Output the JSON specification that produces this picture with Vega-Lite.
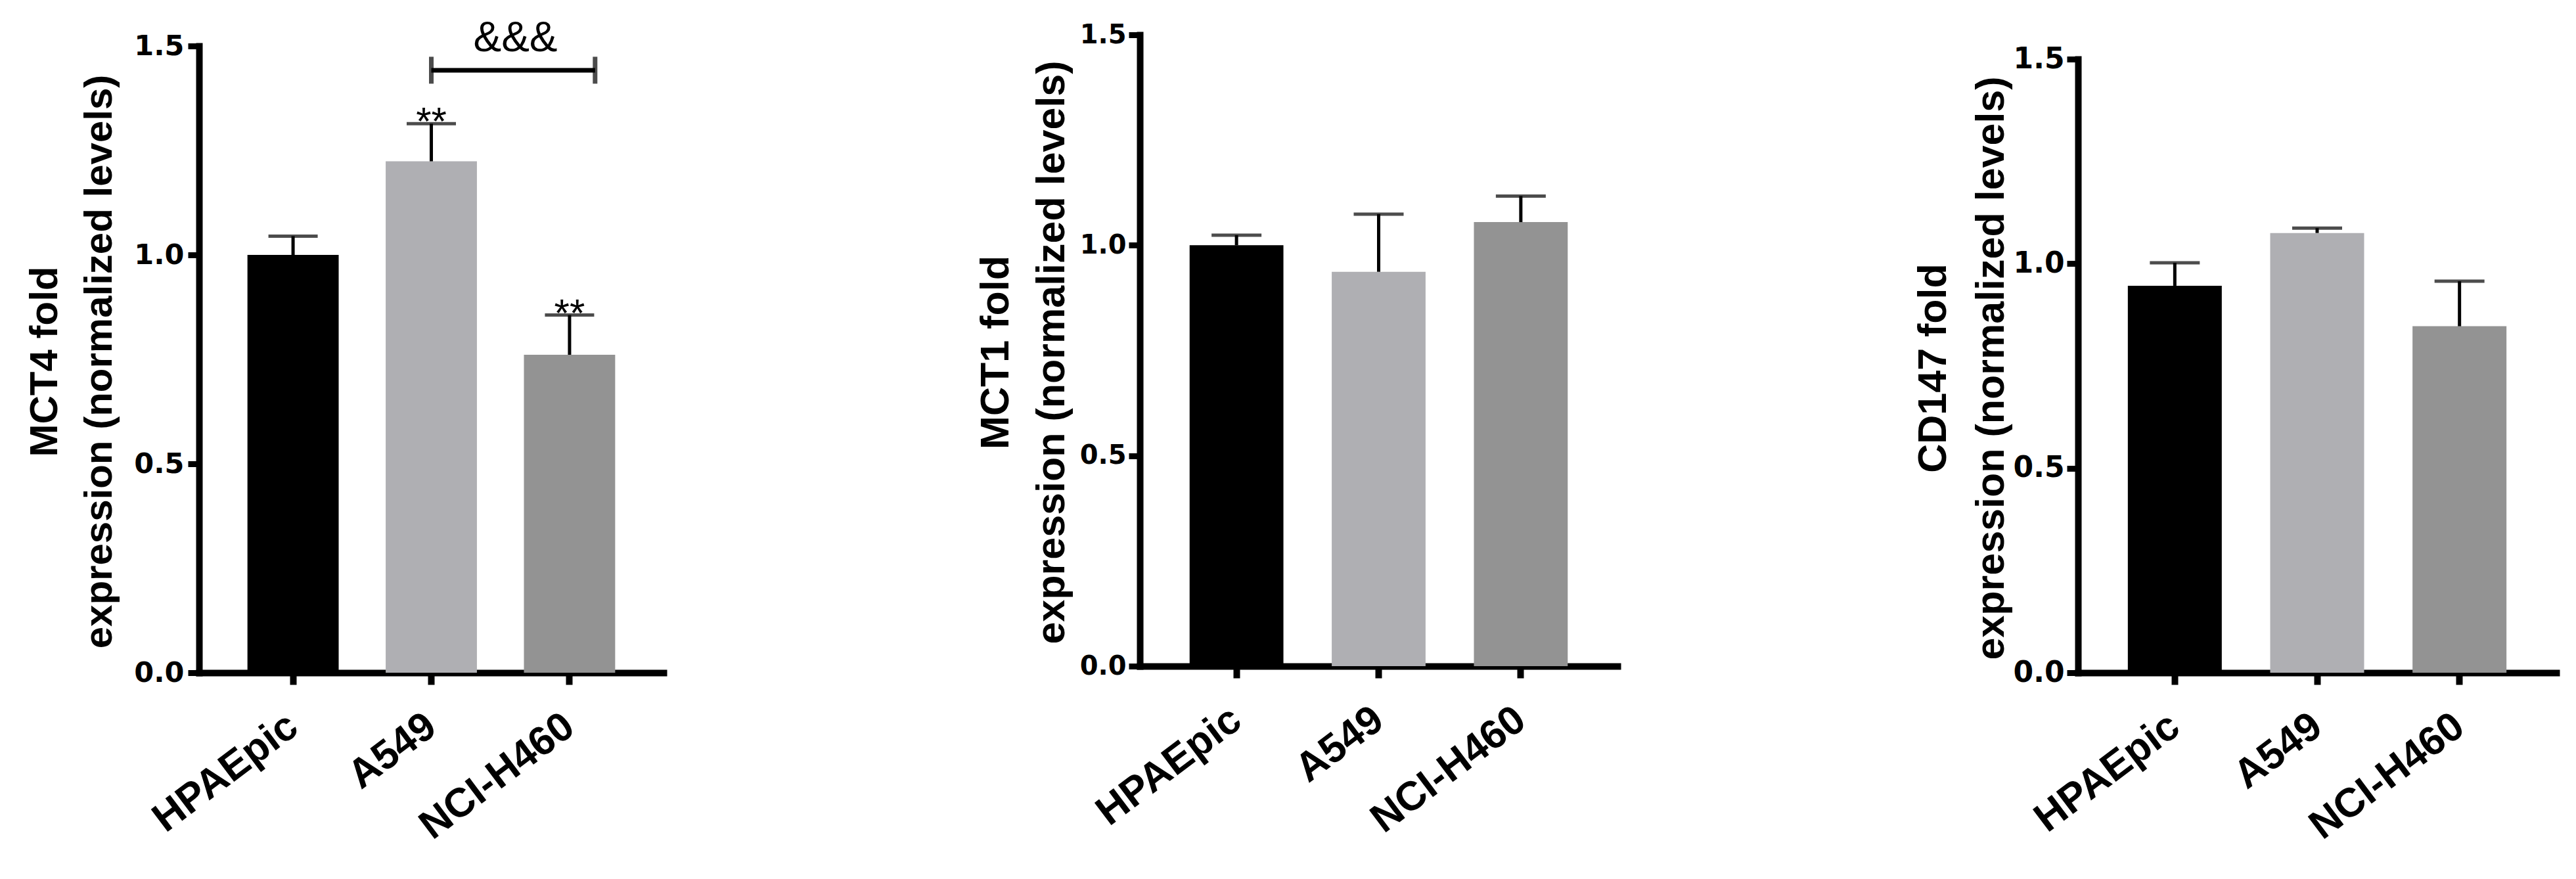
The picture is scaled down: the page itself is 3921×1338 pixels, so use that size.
{
  "$schema": "https://vega.github.io/schema/vega-lite/v6.json",
  "autosize": "none",
  "padding": {"left": 303, "top": 53, "right": 3618, "bottom": 1285},
  "background": "white",
  "config": {
    "view": {"stroke": null},
    "axis": {"grid": false, "domainColor": "black", "tickColor": "black", "labelColor": "black", "titleColor": "black", "domainCap": "square", "domainWidth": 10, "tickWidth": 9, "labelLimit": 0}
  },
  "datasets": {
    "mct4": [
      {"cell": "HPAEpic", "mean": 1.0, "upper": 1.045, "sig": ""},
      {"cell": "A549", "mean": 1.224, "upper": 1.314, "sig": "**"},
      {"cell": "NCI-H460", "mean": 0.761, "upper": 0.856, "sig": "**"}
    ],
    "mct1": [
      {"cell": "HPAEpic", "mean": 1.0, "upper": 1.024},
      {"cell": "A549", "mean": 0.937, "upper": 1.074},
      {"cell": "NCI-H460", "mean": 1.055, "upper": 1.117}
    ],
    "cd147": [
      {"cell": "HPAEpic", "mean": 0.946, "upper": 1.002},
      {"cell": "A549", "mean": 1.075, "upper": 1.087},
      {"cell": "NCI-H460", "mean": 0.847, "upper": 0.957}
    ],
    "bracket": [
      {"from": "A549", "to": "NCI-H460", "y": 1.442, "label": "&&&"}
    ]
  },
  "bounds": "flush",
  "spacing": 705,
  "hconcat": [
    {
      "width": 727,
      "height": 971,
      "encoding": {
        "x": {"field": "cell", "type": "nominal",
          "scale": {"domain": ["HPAEpic", "A549", "NCI-H460"], "range": [0, 707], "paddingInner": 0.34, "paddingOuter": 0.35},
          "axis": {"title": null, "labelAngle": -37, "labelAlign": "right", "labelBaseline": "middle", "labelFont": "Liberation Sans", "labelFontWeight": "bold", "labelFontSize": 62, "labelPadding": 56, "tickSize": 18, "tickWidth": 10}}
      },
      "layer": [
        {
          "data": {"name": "mct4"},
          "mark": {"type": "bar"},
          "encoding": {
            "y": {"field": "mean", "type": "quantitative",
              "scale": {"domain": [0, 1.5], "range": [971, 17], "nice": false},
              "axis": {"title": ["MCT4 fold", "expression (normalized levels)"], "values": [0, 0.5, 1, 1.5], "format": ".1f", "labelFont": "DejaVu Sans", "labelFontWeight": "bold", "labelFontSize": 43, "labelPadding": 6, "tickSize": 17, "titleFont": "Liberation Sans", "titleFontWeight": "bold", "titleFontSize": 60, "titleLineHeight": 83, "titleX": -204, "titleY": 497, "titleAngle": -90, "titleAlign": "center", "titleBaseline": "bottom"}},
            "color": {"field": "cell", "type": "nominal", "scale": {"domain": ["HPAEpic", "A549", "NCI-H460"], "range": ["#000000", "#afafb3", "#939393"]}, "legend": null}
          }
        },
        {
          "data": {"name": "mct4"},
          "mark": {"type": "rule", "strokeWidth": 5, "color": "black"},
          "encoding": {"y": {"field": "mean", "type": "quantitative"}, "y2": {"field": "upper"}}
        },
        {
          "data": {"name": "mct4"},
          "mark": {"type": "tick", "size": 75, "thickness": 5, "color": "black"},
          "encoding": {"y": {"field": "upper", "type": "quantitative"}}
        },
        {
          "data": {"name": "mct4"},
          "mark": {"type": "text", "font": "Liberation Sans", "fontSize": 60, "baseline": "alphabetic", "align": "center", "dy": 17, "color": "black"},
          "encoding": {"y": {"field": "upper", "type": "quantitative"}, "text": {"field": "sig"}}
        },
        {
          "data": {"name": "bracket"},
          "mark": {"type": "rule", "strokeWidth": 7, "color": "black"},
          "encoding": {
            "x": {"field": "from", "type": "nominal"},
            "x2": {"field": "to", "bandPosition": 0.78},
            "y": {"field": "y", "type": "quantitative"}
          }
        },
        {
          "data": {"name": "bracket"},
          "mark": {"type": "tick", "orient": "vertical", "size": 41, "thickness": 7, "color": "black"},
          "encoding": {
            "x": {"field": "from", "type": "nominal"},
            "y": {"field": "y", "type": "quantitative"}
          }
        },
        {
          "data": {"name": "bracket"},
          "mark": {"type": "tick", "orient": "vertical", "size": 41, "thickness": 7, "color": "black"},
          "encoding": {
            "x": {"field": "to", "type": "nominal", "bandPosition": 0.78},
            "y": {"field": "y", "type": "quantitative"}
          }
        },
        {
          "data": {"name": "bracket"},
          "mark": {"type": "text", "font": "Liberation Sans", "fontSize": 64, "baseline": "alphabetic", "align": "center", "dx": 128, "dy": -29, "color": "black"},
          "encoding": {
            "x": {"field": "from", "type": "nominal"},
            "y": {"field": "y", "type": "quantitative"},
            "text": {"field": "label"}
          }
        }
      ]
    },
    {
      "width": 723,
      "height": 961,
      "data": {"name": "mct1"},
      "encoding": {
        "x": {"field": "cell", "type": "nominal",
          "scale": {"domain": ["HPAEpic", "A549", "NCI-H460"], "range": [0, 727], "paddingInner": 0.34, "paddingOuter": 0.35},
          "axis": {"title": null, "labelAngle": -37, "labelAlign": "right", "labelBaseline": "middle", "labelFont": "Liberation Sans", "labelFontWeight": "bold", "labelFontSize": 62, "labelPadding": 56, "tickSize": 18, "tickWidth": 10}}
      },
      "layer": [
        {
          "mark": {"type": "bar"},
          "encoding": {
            "y": {"field": "mean", "type": "quantitative",
              "scale": {"domain": [0, 1.5], "range": [961, 0], "nice": false},
              "axis": {"title": ["MCT1 fold", "expression (normalized levels)"], "values": [0, 0.5, 1, 1.5], "format": ".1f", "labelFont": "DejaVu Sans", "labelFontWeight": "bold", "labelFontSize": 40, "labelPadding": 4, "tickSize": 17, "titleFont": "Liberation Sans", "titleFontWeight": "bold", "titleFontSize": 61, "titleLineHeight": 85, "titleX": -188, "titleY": 483, "titleAngle": -90, "titleAlign": "center", "titleBaseline": "bottom"}},
            "color": {"field": "cell", "type": "nominal", "scale": {"domain": ["HPAEpic", "A549", "NCI-H460"], "range": ["#000000", "#afafb3", "#939393"]}, "legend": null}
          }
        },
        {
          "mark": {"type": "rule", "strokeWidth": 5, "color": "black"},
          "encoding": {"y": {"field": "mean", "type": "quantitative"}, "y2": {"field": "upper"}}
        },
        {
          "mark": {"type": "tick", "size": 76, "thickness": 5, "color": "black"},
          "encoding": {"y": {"field": "upper", "type": "quantitative"}}
        }
      ]
    },
    {
      "width": 728,
      "height": 971,
      "data": {"name": "cd147"},
      "encoding": {
        "x": {"field": "cell", "type": "nominal",
          "scale": {"domain": ["HPAEpic", "A549", "NCI-H460"], "range": [0, 728], "paddingInner": 0.34, "paddingOuter": 0.35},
          "axis": {"title": null, "labelAngle": -37, "labelAlign": "right", "labelBaseline": "middle", "labelFont": "Liberation Sans", "labelFontWeight": "bold", "labelFontSize": 62, "labelPadding": 56, "tickSize": 18, "tickWidth": 10}}
      },
      "layer": [
        {
          "mark": {"type": "bar"},
          "encoding": {
            "y": {"field": "mean", "type": "quantitative",
              "scale": {"domain": [0, 1.5], "range": [971, 37], "nice": false},
              "axis": {"title": ["CD147 fold", "expression (normalized levels)"], "values": [0, 0.5, 1, 1.5], "format": ".1f", "labelFont": "DejaVu Sans", "labelFontWeight": "bold", "labelFontSize": 44, "labelPadding": 4, "tickSize": 17, "titleFont": "Liberation Sans", "titleFontWeight": "bold", "titleFontSize": 61, "titleLineHeight": 88, "titleX": -189, "titleY": 507, "titleAngle": -90, "titleAlign": "center", "titleBaseline": "bottom"}},
            "color": {"field": "cell", "type": "nominal", "scale": {"domain": ["HPAEpic", "A549", "NCI-H460"], "range": ["#000000", "#afafb3", "#939393"]}, "legend": null}
          }
        },
        {
          "mark": {"type": "rule", "strokeWidth": 5, "color": "black"},
          "encoding": {"y": {"field": "mean", "type": "quantitative"}, "y2": {"field": "upper"}}
        },
        {
          "mark": {"type": "tick", "size": 76, "thickness": 5, "color": "black"},
          "encoding": {"y": {"field": "upper", "type": "quantitative"}}
        }
      ]
    }
  ]
}
